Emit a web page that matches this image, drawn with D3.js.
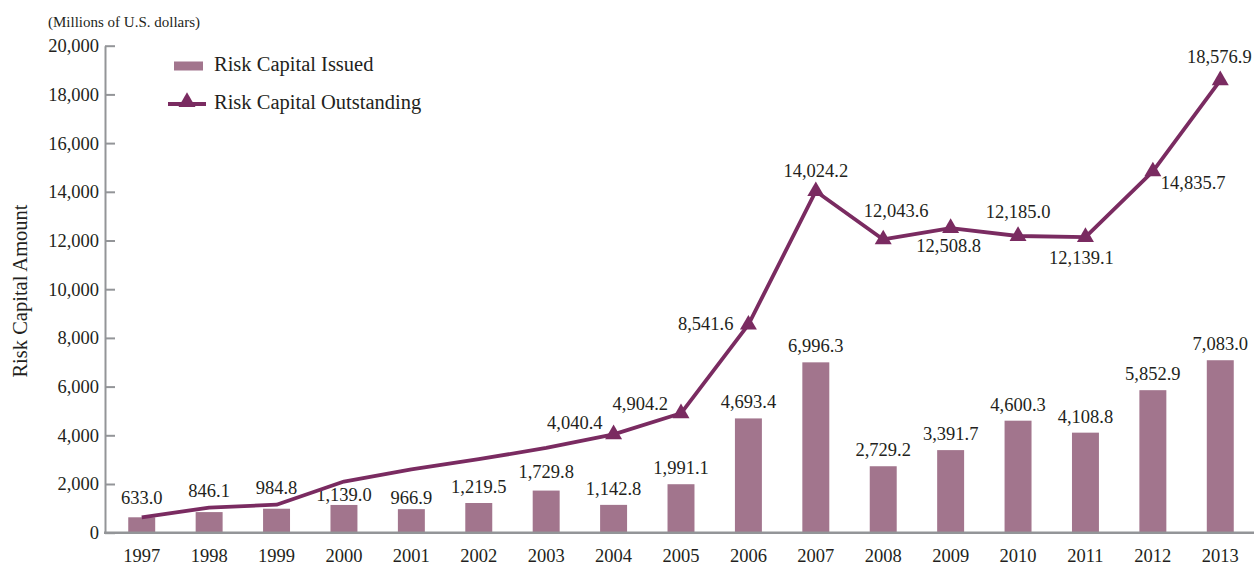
<!DOCTYPE html>
<html>
<head>
<meta charset="utf-8">
<script src="https://cdn.jsdelivr.net/npm/d3@7"></script>
<style>
  html, body { margin: 0; padding: 0; background: #ffffff; }
  svg { display: block; font-family: "Liberation Serif", "Times New Roman", serif; }
</style>
</head>
<body>
<svg id="chart" width="1254" height="566"></svg>
<script>
// Risk capital issued (bars) and outstanding (line), millions of U.S. dollars
const years = [1997, 1998, 1999, 2000, 2001, 2002, 2003, 2004, 2005, 2006, 2007, 2008, 2009, 2010, 2011, 2012, 2013];
const issued = [633.0, 846.1, 984.8, 1139.0, 966.9, 1219.5, 1729.8, 1142.8, 1991.1, 4693.4, 6996.3, 2729.2, 3391.7, 4600.3, 4108.8, 5852.9, 7083.0];
const outstanding = [633.0, 1030, 1150, 2100, 2600, 3020, 3480, 4040.4, 4904.2, 8541.6, 14024.2, 12043.6, 12508.8, 12185.0, 12139.1, 14835.7, 18576.9];
const outstandingMarkedYears = [2004, 2005, 2006, 2007, 2008, 2009, 2010, 2011, 2012, 2013];
const yTicks = [0, 2000, 4000, 6000, 8000, 10000, 12000, 14000, 16000, 18000, 20000];
const seriesNames = ["Risk Capital Issued", "Risk Capital Outstanding"];

const barColor = "#a2758d";
const lineColor = "#7a2b61";
const textColor = "#231f20";
const axisColor = "#939598";
const fmt = d3.format(",.1f");

const svg = d3.select("#chart");

const x = d3.scaleBand().domain(years).range([106, 1256]).paddingInner(0.6).paddingOuter(0.33);
const y = d3.scaleLinear().domain([0, 20000]).range([532.7, 45.7]);
const cx = yr => x(yr) + x.bandwidth() / 2;

// Bars
const barData = years.map((yr, i) => ({ year: yr, value: issued[i] }));
svg.append("g").selectAll("rect").data(barData).join("rect")
  .attr("x", d => x(d.year))
  .attr("y", d => y(d.value))
  .attr("width", x.bandwidth())
  .attr("height", d => y(0) - y(d.value))
  .attr("fill", barColor);

// Bar value labels: gap above the bar top, nudged where the line runs close
const barGap = { 1997: 13, 1998: 15, 1999: 15, 2000: 4, 2001: 5, 2003: 13 };
svg.append("g").selectAll("text").data(barData).join("text")
  .attr("x", d => cx(d.year))
  .attr("y", d => y(d.value) - (barGap[d.year] !== undefined ? barGap[d.year] : 10))
  .attr("text-anchor", "middle")
  .attr("font-size", 18.5)
  .attr("fill", textColor)
  .text(d => fmt(d.value));

// Y axis
const yAxis = d3.axisLeft(y).tickValues(yTicks).tickFormat(d3.format(",")).tickSizeInner(-10).tickSizeOuter(0).tickPadding(6);
const gy = svg.append("g").attr("transform", "translate(105,0)").call(yAxis);
gy.select(".domain").attr("stroke", axisColor).attr("stroke-width", 2);
gy.selectAll(".tick line").attr("stroke", axisColor).attr("stroke-width", 2);
gy.selectAll(".tick text").attr("font-size", 18.5).attr("fill", textColor)
  .attr("font-family", "Liberation Serif, Times New Roman, serif");

// X axis: baseline and year labels
svg.append("line")
  .attr("x1", 104).attr("x2", 1254)
  .attr("y1", y(0)).attr("y2", y(0))
  .attr("stroke", axisColor).attr("stroke-width", 2.5);
const xAxis = d3.axisBottom(x).tickSize(0).tickPadding(0);
const gx = svg.append("g").attr("transform", "translate(0,561.5)").call(xAxis);
gx.select(".domain").remove();
gx.selectAll(".tick text").attr("font-size", 18.5).attr("fill", textColor)
  .attr("dy", 0)
  .attr("font-family", "Liberation Serif, Times New Roman, serif");

// Outstanding line
const lineData = years.map((yr, i) => ({ year: yr, value: outstanding[i] }));
const line = d3.line().x(d => cx(d.year)).y(d => y(d.value));
svg.append("path").datum(lineData)
  .attr("d", line)
  .attr("fill", "none")
  .attr("stroke", lineColor)
  .attr("stroke-width", 3.8)
  .attr("stroke-linejoin", "round");

const marked = lineData.filter(d => outstandingMarkedYears.includes(d.year));
const tri = d3.symbol().type(d3.symbolTriangle).size(125);
svg.append("g").selectAll("path").data(marked).join("path")
  .attr("transform", d => `translate(${cx(d.year)},${y(d.value)})`)
  .attr("d", tri)
  .attr("fill", lineColor);

// Outstanding value labels, placed around each marker
const place = {
  2004: ["end", -11, -5],
  2005: ["end", -13, -3],
  2006: ["end", -15, 5],
  2007: ["middle", 0, -14],
  2008: ["middle", 13, -22],
  2009: ["middle", -2, 24],
  2010: ["middle", 0, -17.5],
  2011: ["middle", -4, 27],
  2012: ["start", 8, 18],
  2013: ["middle", -1, -17]
};
svg.append("g").selectAll("text").data(marked).join("text")
  .attr("x", d => cx(d.year) + place[d.year][1])
  .attr("y", d => y(d.value) + place[d.year][2])
  .attr("text-anchor", d => place[d.year][0])
  .attr("font-size", 18.5)
  .attr("fill", textColor)
  .text(d => fmt(d.value));

// Unit note and axis title
svg.append("text").attr("x", 48).attr("y", 27)
  .attr("font-size", 15).attr("fill", textColor)
  .text("(Millions of U.S. dollars)");
svg.append("text")
  .attr("transform", "translate(27,291) rotate(-90)")
  .attr("text-anchor", "middle")
  .attr("font-size", 20.5).attr("fill", textColor)
  .text("Risk Capital Amount");

// Legend
const lg = svg.append("g");
lg.append("rect").attr("x", 174).attr("y", 61.5).attr("width", 29).attr("height", 9).attr("fill", barColor);
lg.append("text").attr("x", 214).attr("y", 71).attr("font-size", 20.5).attr("fill", textColor).text(seriesNames[0]);
lg.append("line").attr("x1", 168).attr("x2", 206).attr("y1", 104).attr("y2", 104)
  .attr("stroke", lineColor).attr("stroke-width", 4);
lg.append("path").attr("transform", "translate(187,102)").attr("d", tri).attr("fill", lineColor);
lg.append("text").attr("x", 214).attr("y", 109).attr("font-size", 20.5).attr("fill", textColor).text(seriesNames[1]);
</script>
</body>
</html>
